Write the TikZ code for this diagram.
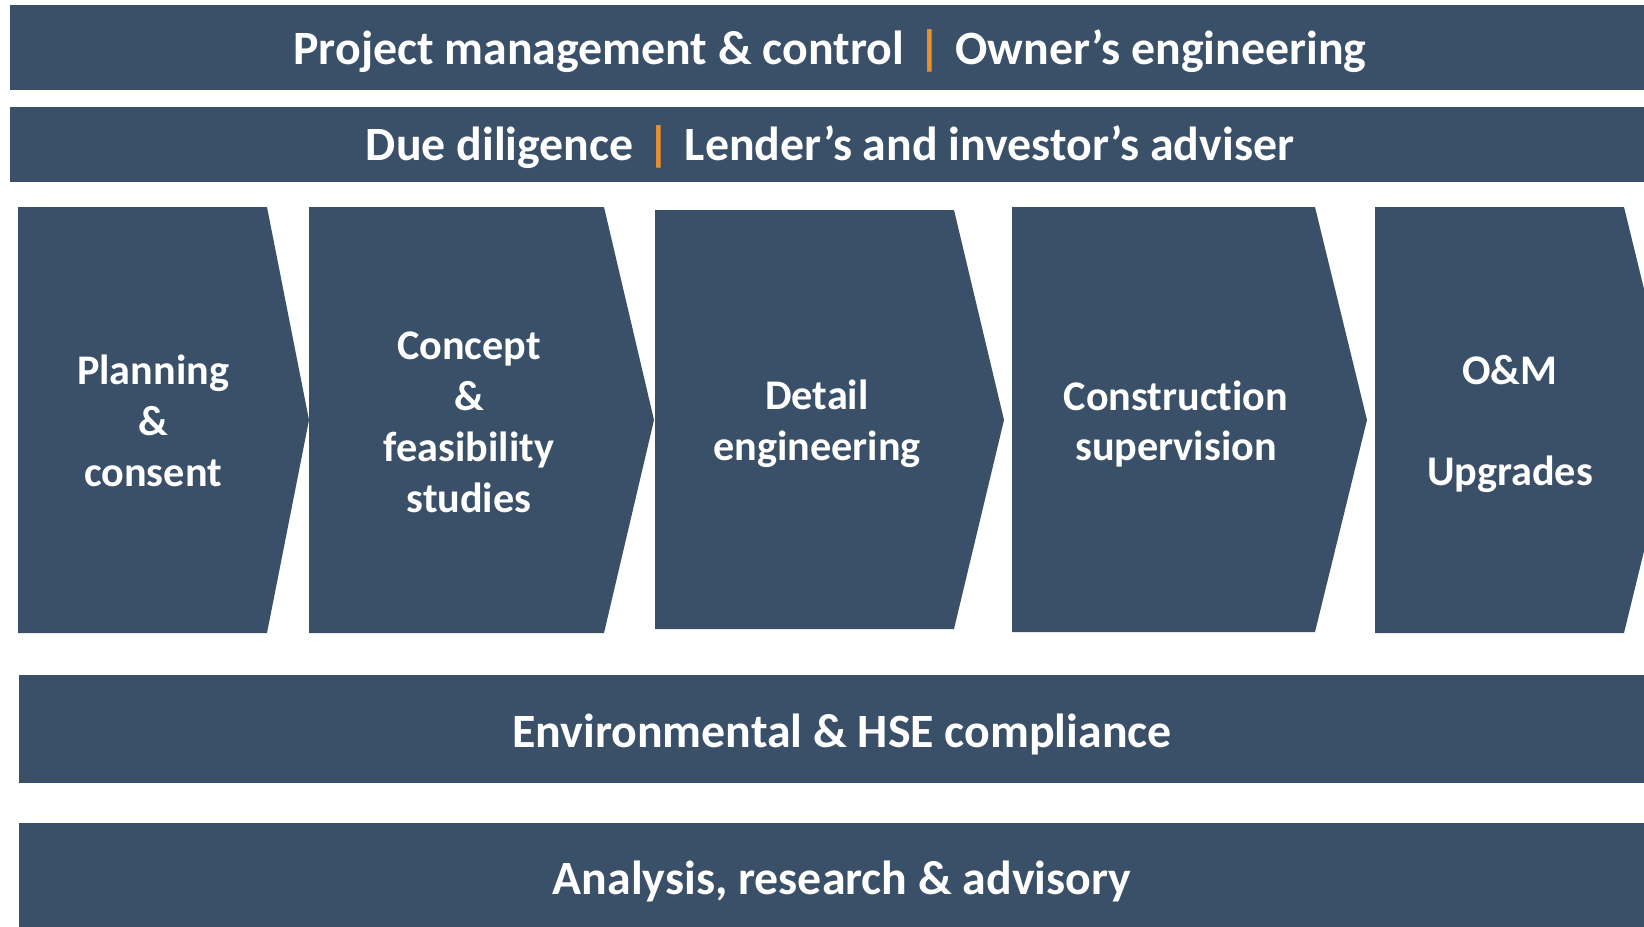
\documentclass[tikz,border=0pt]{standalone}
\usepackage{fontspec}
\setmainfont[Ligatures=NoCommon]{Carlito}
\usepackage{tikz}
\usetikzlibrary{positioning}

\definecolor{BandBlue}{RGB}{58,80,104}
\definecolor{SepOrange}{RGB}{232,145,44}

\begin{document}
\begin{tikzpicture}[x=0.01cm,y=-0.01cm]
				\tikzstyle{Band}	= [fill=BandBlue]
				\tikzstyle{Title}	= [text=white, inner sep=0pt, font=\bfseries\fontsize{13.6}{16}\selectfont]
				\tikzstyle{Stage}	= [text=white, inner sep=0pt, align=center, font=\bfseries\fontsize{12}{14.5}\selectfont]
				\newcommand{\sep}{\hspace{0.3em}{\color{SepOrange}|}\hspace{0.3em}}
				
				\useasboundingbox (0,0) rectangle (1644,926);
				
				% horizontal bands
				\fill [Band] (10,5) rectangle (1680,90);
				\fill [Band] (10,107) rectangle (1680,182);
				\fill [Band] (19,675) rectangle (1680,783);
				\fill [Band] (19,823) rectangle (1680,950);
				
				% process chevrons
				\fill [Band] (18,207) -- (267,207) -- (309,420) -- (267,633) -- (18,633) -- cycle;
				\fill [Band] (309,207) -- (604,207) -- (654,420) -- (604,633) -- (309,633) -- cycle;
				\fill [Band] (655,210) -- (954,210) -- (1004,420) -- (954,629) -- (655,629) -- cycle;
				\fill [Band] (1012,207) -- (1315,207) -- (1367,420) -- (1315,632) -- (1012,632) -- cycle;
				\fill [Band] (1375,207) -- (1624,207) -- (1676,420) -- (1624,633) -- (1375,633) -- cycle;
				
				\node (pm) at (830,51) [Title] {Project management \& control\sep Owner’s engineering};
				\node (dd) at (830,147) [Title] {Due diligence\sep Lender’s and investor’s adviser};
				
				\node (plan) at (153,421) [Stage] {Planning\\\&\\consent};
				\node (conc) at (469,422) [Stage] {Concept\\\&\\feasibility\\studies};
				\node (dete) at (817,424) [Stage] {Detail\\engineering};
				\node (cons) at (1176,424) [Stage] {Construction\\supervision};
				\node (om)   at (1510,424) [Stage] {O\&M\\[14.5pt]Upgrades};
				
				\node (env) at (842,734) [Title] {Environmental \& HSE compliance};
				\node (ana) at (842,881) [Title] {Analysis, research \& advisory};
			\end{tikzpicture}
\end{document}
